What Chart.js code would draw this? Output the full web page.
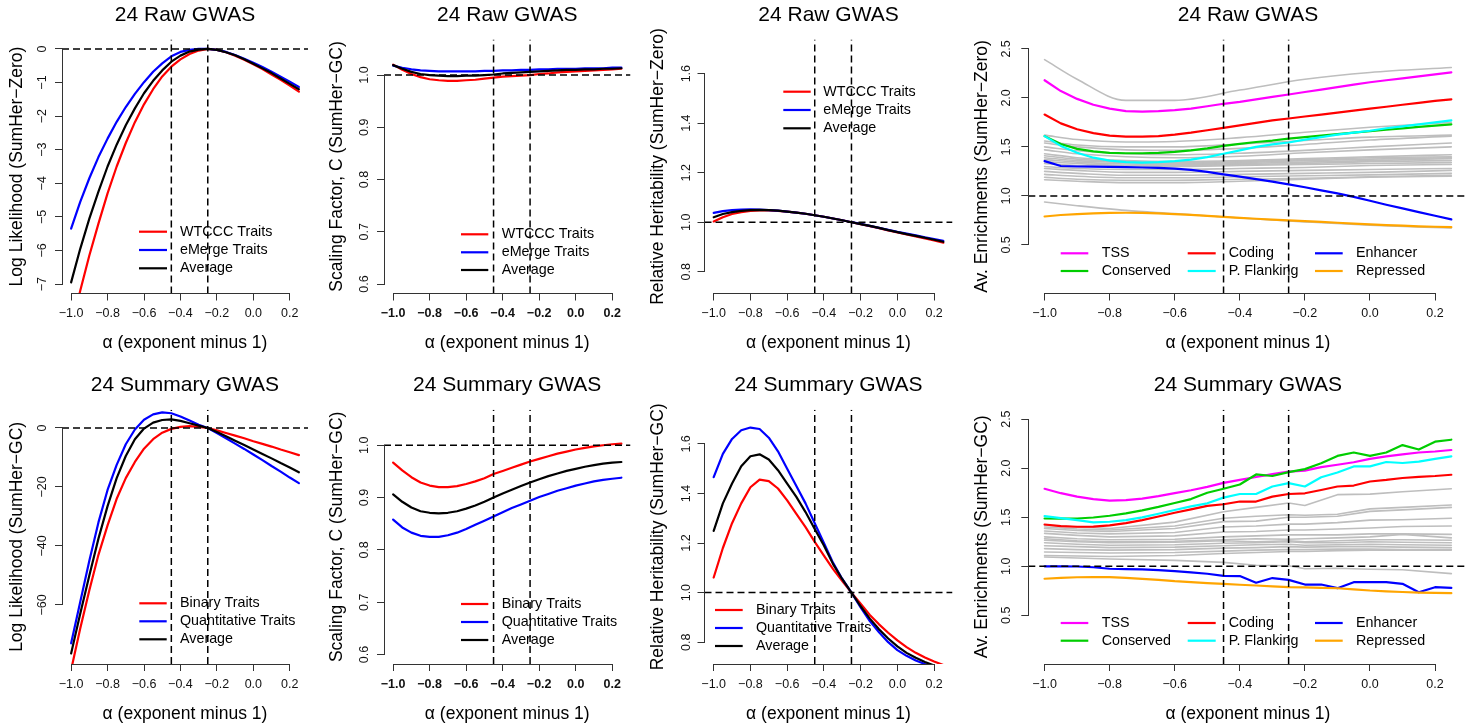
<!DOCTYPE html>
<html>
<head>
<meta charset="utf-8">
<script src="https://cdn.jsdelivr.net/npm/chart.js@4.4.1/dist/chart.umd.min.js"></script>
<style>
html, body { margin: 0; padding: 0; background: #fff; }
#fig { position: relative; width: 1483px; height: 728px; overflow: hidden; }
#fig canvas { position: absolute; }
</style>
</head>
<body>
<div id="fig"></div>
<script>
// x values (alpha) shared by the fine curves
const alpha = [-1.00, -0.95, -0.90, -0.85, -0.80, -0.75, -0.70, -0.65, -0.60, -0.55, -0.50, -0.45, -0.40,
               -0.35, -0.30, -0.25, -0.20, -0.15, -0.10, -0.05, 0.00, 0.05, 0.10, 0.15, 0.20, 0.25];
const alphaGreyRaw = [-1.0, -0.9, -0.75, -0.6, -0.4, -0.2, 0.0, 0.25];
const alphaGreySum = [-1.0, -0.9, -0.8, -0.6, -0.45, -0.35, -0.25, -0.2, -0.1, 0.0, 0.1, 0.25];

// tick labels
const alphaTicks = [-1.0, -0.8, -0.6, -0.4, -0.2, 0.0, 0.2];
const rawLikTicks = [-7, -6, -5, -4, -3, -2, -1, 0];
const sumLikTicks = [-60, -40, -20, 0];
const scaleTicks = [0.6, 0.7, 0.8, 0.9, 1.0];
const herTicks = [0.8, 1.0, 1.2, 1.4, 1.6];
const enrTicks = [0.5, 1.0, 1.5, 2.0, 2.5];

// 24 Raw GWAS
const rawLikWtccc = [-8.3, -7.2, -6.15, -5.2, -4.3, -3.5, -2.8, -2.18, -1.65, -1.2, -0.82, -0.53, -0.31, -0.15, -0.05, 0, -0.03, -0.1, -0.2, -0.32, -0.46, -0.6, -0.76, -0.92, -1.09, -1.27];
const rawLikEmerge = [-5.35, -4.55, -3.85, -3.22, -2.67, -2.17, -1.73, -1.34, -0.99, -0.68, -0.43, -0.22, -0.09, -0.03, 0, 0, -0.03, -0.09, -0.18, -0.29, -0.41, -0.54, -0.68, -0.83, -0.98, -1.13];
const rawLikAverage = [-6.95, -5.95, -5.05, -4.25, -3.5, -2.85, -2.27, -1.77, -1.32, -0.95, -0.64, -0.38, -0.2, -0.08, -0.02, 0, -0.03, -0.1, -0.19, -0.31, -0.44, -0.58, -0.72, -0.88, -1.04, -1.2];

const rawScaleWtccc = [1.020, 1.010, 1.002, 0.996, 0.992, 0.990, 0.989, 0.989, 0.990, 0.991, 0.993, 0.995, 0.997, 0.998, 0.999, 1.000, 1.002, 1.003, 1.005, 1.006, 1.007, 1.008, 1.009, 1.010, 1.011, 1.012];
const rawScaleEmerge = [1.018, 1.014, 1.011, 1.009, 1.008, 1.007, 1.007, 1.007, 1.007, 1.007, 1.008, 1.008, 1.009, 1.009, 1.010, 1.010, 1.011, 1.011, 1.012, 1.012, 1.012, 1.013, 1.013, 1.013, 1.014, 1.014];
const rawScaleAverage = [1.019, 1.012, 1.006, 1.002, 1.000, 0.999, 0.998, 0.998, 0.999, 0.999, 1.000, 1.001, 1.003, 1.004, 1.005, 1.006, 1.007, 1.008, 1.009, 1.010, 1.010, 1.011, 1.011, 1.012, 1.012, 1.013];

const rawHerWtccc = [1.003, 1.02, 1.033, 1.041, 1.046, 1.048, 1.048, 1.046, 1.043, 1.039, 1.034, 1.028, 1.022, 1.015, 1.008, 1.0, 0.992, 0.984, 0.976, 0.967, 0.959, 0.951, 0.943, 0.934, 0.926, 0.917];
const rawHerEmerge = [1.038, 1.045, 1.049, 1.051, 1.052, 1.051, 1.049, 1.047, 1.043, 1.039, 1.034, 1.028, 1.022, 1.015, 1.008, 1.0, 0.993, 0.985, 0.977, 0.969, 0.961, 0.954, 0.947, 0.939, 0.932, 0.925];
const rawHerAverage = [1.02, 1.033, 1.041, 1.046, 1.049, 1.05, 1.049, 1.047, 1.043, 1.039, 1.034, 1.028, 1.022, 1.015, 1.008, 1.0, 0.992, 0.985, 0.977, 0.968, 0.96, 0.952, 0.945, 0.937, 0.929, 0.921];

const rawEnrTss = [2.18, 2.07, 1.99, 1.93, 1.89, 1.865, 1.86, 1.865, 1.875, 1.89, 1.915, 1.94, 1.96, 1.985, 2.01, 2.035, 2.06, 2.085, 2.11, 2.135, 2.16, 2.18, 2.2, 2.22, 2.24, 2.26];
const rawEnrCoding = [1.83, 1.74, 1.68, 1.64, 1.615, 1.605, 1.605, 1.61, 1.625, 1.645, 1.67, 1.695, 1.72, 1.745, 1.77, 1.79, 1.81, 1.83, 1.85, 1.87, 1.89, 1.91, 1.93, 1.95, 1.97, 1.985];
const rawEnrEnhancer = [1.355, 1.305, 1.30, 1.298, 1.296, 1.293, 1.29, 1.285, 1.278, 1.266, 1.245, 1.22, 1.197, 1.172, 1.146, 1.118, 1.088, 1.057, 1.025, 0.99, 0.95, 0.91, 0.873, 0.835, 0.797, 0.76];
const rawEnrConserved = [1.61, 1.53, 1.48, 1.455, 1.44, 1.435, 1.435, 1.44, 1.45, 1.465, 1.485, 1.51, 1.53, 1.55, 1.565, 1.585, 1.6, 1.615, 1.63, 1.645, 1.66, 1.675, 1.69, 1.705, 1.718, 1.73];
const rawEnrFlanking = [1.61, 1.51, 1.44, 1.39, 1.36, 1.345, 1.34, 1.345, 1.355, 1.37, 1.395, 1.43, 1.465, 1.5, 1.525, 1.545, 1.575, 1.6, 1.625, 1.645, 1.665, 1.69, 1.71, 1.73, 1.75, 1.77];
const rawEnrRepressed = [0.79, 0.805, 0.815, 0.822, 0.826, 0.828, 0.827, 0.822, 0.815, 0.806, 0.796, 0.785, 0.776, 0.767, 0.758, 0.75, 0.742, 0.734, 0.726, 0.718, 0.71, 0.702, 0.696, 0.69, 0.685, 0.681];
const rawEnrGrey = [
  [2.39, 2.19, 1.975, 1.975, 2.08, 2.19, 2.26, 2.31],
  [1.62, 1.575, 1.55, 1.555, 1.595, 1.65, 1.70, 1.75],
  [1.56, 1.52, 1.50, 1.50, 1.53, 1.565, 1.60, 1.62],
  [1.54, 1.50, 1.47, 1.465, 1.485, 1.525, 1.57, 1.61],
  [1.50, 1.46, 1.43, 1.42, 1.435, 1.465, 1.50, 1.54],
  [1.47, 1.43, 1.40, 1.39, 1.405, 1.44, 1.47, 1.50],
  [1.43, 1.39, 1.36, 1.35, 1.36, 1.38, 1.40, 1.42],
  [1.41, 1.375, 1.35, 1.34, 1.35, 1.37, 1.39, 1.40],
  [1.39, 1.36, 1.34, 1.33, 1.34, 1.36, 1.375, 1.39],
  [1.37, 1.345, 1.325, 1.32, 1.33, 1.345, 1.36, 1.38],
  [1.35, 1.33, 1.31, 1.31, 1.32, 1.33, 1.35, 1.36],
  [1.33, 1.31, 1.30, 1.30, 1.31, 1.32, 1.33, 1.34],
  [1.30, 1.28, 1.27, 1.27, 1.28, 1.29, 1.31, 1.32],
  [1.28, 1.26, 1.24, 1.24, 1.25, 1.26, 1.27, 1.28],
  [1.25, 1.23, 1.21, 1.21, 1.22, 1.23, 1.24, 1.26],
  [1.22, 1.20, 1.185, 1.185, 1.195, 1.205, 1.215, 1.23],
  [1.19, 1.17, 1.16, 1.16, 1.17, 1.18, 1.195, 1.21],
  [1.165, 1.15, 1.135, 1.135, 1.15, 1.17, 1.19, 1.20],
  [0.937, 0.9, 0.852, 0.82, 0.775, 0.735, 0.7, 0.672]
];

// 24 Summary GWAS
const sumLikBinary = [-82, -68, -55, -43, -33, -24, -17, -11.5, -7, -3.8, -1.6, -0.3, 0.4, 0.6, 0.4, 0, -0.8, -1.7, -2.6, -3.5, -4.5, -5.4, -6.3, -7.3, -8.2, -9.2];
const sumLikQuant = [-73, -59, -45, -32, -21, -12.5, -5.5, -0.5, 2.8, 4.6, 5.3, 5.0, 3.9, 2.5, 1.1, 0, -1.7, -3.5, -5.3, -7.1, -9.0, -10.9, -12.9, -14.8, -16.8, -18.7];
const sumLikAverage = [-76.4, -63, -50, -37.5, -26.5, -17, -9.5, -3.8, -0.2, 1.8, 2.7, 2.9, 2.4, 1.6, 0.8, 0, -1.4, -2.8, -4.3, -5.8, -7.3, -8.8, -10.3, -11.9, -13.4, -15.0];

const sumScaleBinary = [0.967, 0.952, 0.939, 0.929, 0.923, 0.920, 0.920, 0.922, 0.926, 0.931, 0.937, 0.945, 0.951, 0.957, 0.963, 0.969, 0.974, 0.979, 0.984, 0.988, 0.992, 0.995, 0.998, 1.000, 1.002, 1.003];
const sumScaleQuant = [0.858, 0.843, 0.833, 0.827, 0.825, 0.825, 0.828, 0.833, 0.840, 0.848, 0.856, 0.864, 0.872, 0.880, 0.887, 0.894, 0.901, 0.907, 0.913, 0.918, 0.923, 0.927, 0.931, 0.934, 0.936, 0.938];
const sumScaleAverage = [0.906, 0.892, 0.881, 0.874, 0.871, 0.870, 0.871, 0.874, 0.879, 0.885, 0.892, 0.900, 0.908, 0.915, 0.922, 0.929, 0.935, 0.941, 0.946, 0.951, 0.955, 0.959, 0.962, 0.965, 0.967, 0.968];

const sumHerBinary = [1.061, 1.18, 1.28, 1.36, 1.425, 1.456, 1.45, 1.42, 1.372, 1.318, 1.264, 1.205, 1.149, 1.095, 1.047, 1.0, 0.955, 0.91, 0.872, 0.838, 0.807, 0.78, 0.757, 0.738, 0.722, 0.708];
const sumHerQuant = [1.466, 1.56, 1.62, 1.655, 1.666, 1.66, 1.625, 1.57, 1.50, 1.43, 1.36, 1.28, 1.20, 1.12, 1.055, 1.0, 0.94, 0.885, 0.84, 0.80, 0.768, 0.745, 0.726, 0.712, 0.70, 0.69];
const sumHerAverage = [1.249, 1.36, 1.44, 1.51, 1.55, 1.558, 1.537, 1.494, 1.44, 1.386, 1.325, 1.257, 1.19, 1.115, 1.054, 1.0, 0.945, 0.895, 0.852, 0.815, 0.783, 0.757, 0.737, 0.72, 0.706, 0.695];

const sumEnrTss = [1.79, 1.745, 1.71, 1.685, 1.67, 1.675, 1.69, 1.715, 1.745, 1.775, 1.81, 1.85, 1.88, 1.91, 1.94, 1.965, 1.975, 2.01, 2.035, 2.06, 2.095, 2.12, 2.14, 2.16, 2.17, 2.185];
const sumEnrCoding = [1.426, 1.41, 1.403, 1.405, 1.417, 1.44, 1.47, 1.507, 1.546, 1.58, 1.615, 1.632, 1.66, 1.66, 1.71, 1.737, 1.744, 1.778, 1.813, 1.823, 1.864, 1.88, 1.90, 1.912, 1.92, 1.933];
const sumEnrEnhancer = [1.0, 1.0, 0.998, 0.99, 0.975, 0.972, 0.968, 0.96, 0.951, 0.938, 0.924, 0.903, 0.9, 0.832, 0.88, 0.862, 0.814, 0.814, 0.777, 0.838, 0.838, 0.838, 0.821, 0.735, 0.787, 0.78];
const sumEnrConserved = [1.487, 1.485, 1.487, 1.497, 1.515, 1.54, 1.57, 1.605, 1.645, 1.685, 1.75, 1.79, 1.833, 1.936, 1.92, 1.96, 1.99, 2.05, 2.125, 2.16, 2.125, 2.16, 2.235, 2.19, 2.27, 2.29];
const sumEnrFlanking = [1.512, 1.49, 1.47, 1.447, 1.454, 1.47, 1.498, 1.535, 1.574, 1.61, 1.642, 1.70, 1.737, 1.737, 1.813, 1.847, 1.813, 1.908, 1.956, 2.018, 2.018, 2.063, 2.053, 2.066, 2.094, 2.12];
const sumEnrRepressed = [0.873, 0.882, 0.888, 0.89, 0.89, 0.882, 0.872, 0.862, 0.848, 0.838, 0.828, 0.821, 0.812, 0.804, 0.796, 0.788, 0.784, 0.78, 0.776, 0.765, 0.753, 0.745, 0.738, 0.732, 0.729, 0.726];
const sumEnrGrey = [
  [1.42, 1.40, 1.385, 1.45, 1.555, 1.60, 1.645, 1.62, 1.73, 1.735, 1.76, 1.79],
  [1.40, 1.38, 1.37, 1.41, 1.49, 1.51, 1.525, 1.52, 1.53, 1.585, 1.60, 1.625],
  [1.385, 1.365, 1.355, 1.385, 1.455, 1.46, 1.50, 1.50, 1.51, 1.56, 1.575, 1.60],
  [1.36, 1.34, 1.33, 1.345, 1.40, 1.41, 1.43, 1.43, 1.445, 1.47, 1.475, 1.49],
  [1.335, 1.315, 1.30, 1.31, 1.35, 1.355, 1.37, 1.37, 1.38, 1.39, 1.405, 1.41],
  [1.30, 1.28, 1.27, 1.275, 1.30, 1.31, 1.32, 1.32, 1.32, 1.33, 1.33, 1.325],
  [1.28, 1.26, 1.25, 1.255, 1.27, 1.28, 1.275, 1.28, 1.29, 1.30, 1.325, 1.29],
  [1.266, 1.25, 1.24, 1.245, 1.26, 1.25, 1.26, 1.25, 1.26, 1.27, 1.27, 1.266],
  [1.24, 1.225, 1.215, 1.22, 1.235, 1.24, 1.25, 1.24, 1.24, 1.25, 1.245, 1.24],
  [1.21, 1.20, 1.19, 1.195, 1.21, 1.22, 1.225, 1.215, 1.22, 1.225, 1.22, 1.215],
  [1.18, 1.17, 1.165, 1.17, 1.185, 1.19, 1.20, 1.195, 1.20, 1.20, 1.195, 1.19],
  [1.146, 1.14, 1.135, 1.14, 1.155, 1.165, 1.17, 1.17, 1.175, 1.175, 1.17, 1.17],
  [1.11, 1.105, 1.10, 1.11, 1.13, 1.14, 1.15, 1.15, 1.16, 1.165, 1.165, 1.165],
  [1.095, 1.085, 1.075, 1.06, 1.04, 1.01, 1.005, 0.975, 0.98, 0.97, 0.965, 0.925]
];

// ---- look ----
const FONT = "'Liberation Sans', Arial, Helvetica, sans-serif";
const TITLE_SIZE = 21, LAB_SIZE = 17.5, TICK_SIZE = 12.5, LEG_SIZE = 14.3;
const AXIS = '#333';
const TL = 7;
const X_MIN = -1.05, X_MAX = 0.3;
const RED = '#FF0000', BLUE = '#0000FF', BLACK = '#000000', MAGENTA = '#FF00FF',
      GREEN = '#00CD00', CYAN = '#00FFFF', ORANGE = '#FFA500', GREY = '#BEBEBE';

Chart.defaults.font.family = FONT;
Chart.defaults.color = '#000';
Chart.defaults.elements.point.radius = 0;

const rows = [
  { top: 0, bottom: 355, plotTop: 39.5, plotBottom: 293.5, titleY: 15, xTickY: 313.3, xTitleY: 343 },
  { top: 364, bottom: 726, plotTop: 409.7, plotBottom: 664, titleY: 385.7, xTickY: 684.7, xTitleY: 714 }
];
const cols = [
  { plotL: 62, plotR: 308, yTitleX: 16.7, yTickX: 43 },
  { plotL: 384, plotR: 630.5, yTitleX: 336.7, yTickX: 365 },
  { plotL: 704.5, plotR: 952.5, yTitleX: 658.5, yTickX: 687 },
  { plotL: 1028.3, plotR: 1467.6, yTitleX: 981.7, yTickX: 1007 }
];

const fig = document.getElementById('fig');
const measureCtx = document.createElement('canvas').getContext('2d');
function widest(labels, font) {
  measureCtx.font = font;
  return Math.max(...labels.map(l => measureCtx.measureText(l).width));
}
function fmt(d) {
  return v => (v < 0 ? '\u2212' : '') + Math.abs(v).toFixed(d);
}
function pts(xs, ys) {
  return xs.map((x, i) => ({ x: x, y: ys[i] }));
}

// R-style axis lines that only run between the first and last tick
const rAxes = {
  id: 'rAxes',
  afterDraw(chart) {
    const { ctx, chartArea } = chart;
    const sx = chart.scales.x, sy = chart.scales.y;
    const al = v => Math.round(v - 0.5) + 0.5;
    ctx.save();
    ctx.strokeStyle = AXIS;
    ctx.lineWidth = 1;
    const yb = al(chartArea.bottom), xl = al(chartArea.left);
    ctx.beginPath();
    ctx.moveTo(al(sx.getPixelForValue(sx.ticks[0].value)) - 0.5, yb);
    ctx.lineTo(al(sx.getPixelForValue(sx.ticks[sx.ticks.length - 1].value)) + 0.5, yb);
    ctx.moveTo(xl, al(sy.getPixelForValue(sy.ticks[0].value)) + 0.5);
    ctx.lineTo(xl, al(sy.getPixelForValue(sy.ticks[sy.ticks.length - 1].value)) - 0.5);
    ctx.stroke();
    ctx.restore();
  }
};

function legendPlugin(spec, ox, oy) {
  return {
    id: 'rLegend',
    afterDraw(chart) {
      const ctx = chart.ctx;
      ctx.save();
      ctx.font = LEG_SIZE + 'px ' + FONT;
      ctx.textBaseline = 'middle';
      ctx.textAlign = 'left';
      ctx.fillStyle = '#000';
      ctx.lineWidth = 2.2;
      spec.items.forEach((it, i) => {
        const c = spec.cols[i % spec.cols.length];
        const y = spec.rows[Math.floor(i / spec.cols.length)] - oy;
        ctx.strokeStyle = it[1];
        ctx.beginPath();
        ctx.moveTo(c[0] - ox, y);
        ctx.lineTo(c[1] - ox, y);
        ctx.stroke();
        ctx.fillText(it[0], c[2] - ox, y);
      });
      ctx.restore();
    }
  };
}

function panel(p) {
  const row = rows[p.row], col = cols[p.col];
  const left = Math.floor(col.yTitleX - 12);
  const right = Math.ceil(col.plotR + 8);
  const cv = document.createElement('canvas');
  cv.width = right - left;
  cv.height = row.bottom - row.top;
  cv.style.left = left + 'px';
  cv.style.top = row.top + 'px';
  fig.appendChild(cv);

  const tickFont = TICK_SIZE + 'px ' + FONT;
  const yLabels = p.yTicks.map(p.yFmt);
  const yPad = (col.plotL - col.yTickX) - TL - widest(yLabels, tickFont) / 2;
  const xPad = row.xTickY - row.plotBottom - TL - TICK_SIZE * 0.6;
  const titleTop = row.titleY - row.top - TITLE_SIZE * 0.6;
  const titleBottom = row.plotTop - row.top - titleTop - TITLE_SIZE * 1.2;

  const dash = { borderColor: '#000', borderWidth: 1.5, borderDash: [7, 4], order: 0 };
  const datasets = [
    Object.assign({ data: [{ x: -0.45, y: p.yMin }, { x: -0.45, y: p.yMax }] }, dash),
    Object.assign({ data: [{ x: -0.25, y: p.yMin }, { x: -0.25, y: p.yMax }] }, dash),
    Object.assign({ data: [{ x: X_MIN, y: p.hLine }, { x: X_MAX, y: p.hLine }] }, dash)
  ];
  p.series.forEach(s => datasets.push({
    data: pts(s.x, s.y),
    borderColor: s.color,
    borderWidth: s.width || 2.2,
    borderCapStyle: 'round',
    borderJoinStyle: 'round',
    cubicInterpolationMode: s.smooth ? 'monotone' : 'default',
    order: s.color === GREY ? 2 : 1
  }));

  new Chart(cv, {
    type: 'line',
    data: { datasets: datasets },
    options: {
      responsive: false,
      animation: false,
      devicePixelRatio: 1,
      events: [],
      layout: { padding: { left: 0, top: 0, bottom: 0, right: right - col.plotR } },
      plugins: {
        legend: { display: false },
        tooltip: { enabled: false },
        title: {
          display: true, text: p.title, fullSize: false, color: '#000',
          font: { size: TITLE_SIZE, weight: 'normal' },
          padding: { top: titleTop, bottom: titleBottom }
        }
      },
      scales: {
        x: {
          type: 'linear', min: X_MIN, max: X_MAX,
          afterBuildTicks: s => { s.ticks = alphaTicks.map(v => ({ value: v })); },
          afterFit: s => { s.height = row.bottom - row.plotBottom; },
          border: { display: false },
          grid: { display: true, drawOnChartArea: false, drawTicks: true, tickLength: TL, color: AXIS },
          ticks: {
            autoSkip: false, maxRotation: 0, padding: xPad, color: '#111',
            font: { size: TICK_SIZE, weight: p.boldX ? 'bold' : 'normal' },
            callback: fmt(1)
          },
          title: {
            display: true, text: '\u03b1 (exponent minus 1)', color: '#000',
            font: { size: LAB_SIZE }, padding: { top: 0, bottom: row.bottom - row.xTitleY - LAB_SIZE * 0.6 }
          }
        },
        y: {
          type: 'linear', min: p.yMin, max: p.yMax,
          afterBuildTicks: s => { s.ticks = p.yTicks.map(v => ({ value: v })); },
          afterFit: s => { s.width = col.plotL - left; },
          border: { display: false },
          grid: { display: true, drawOnChartArea: false, drawTicks: true, tickLength: TL, color: AXIS },
          ticks: {
            autoSkip: false, minRotation: 90, maxRotation: 90, crossAlign: 'center',
            padding: yPad, color: '#111', font: { size: TICK_SIZE },
            callback: p.yFmt
          },
          title: {
            display: true, text: p.yTitle, color: '#000',
            font: { size: LAB_SIZE }, padding: { top: col.yTitleX - left - LAB_SIZE * 0.6, bottom: 0 }
          }
        }
      }
    },
    plugins: [rAxes, legendPlugin(p.legend, left, row.top)]
  });
}

const legOne = [[139, 167, 180]];
const legTriple = [[1060.7, 1088.3, 1101.7], [1187.7, 1215.7, 1228.7], [1315, 1342.7, 1356]];
const enrItems = [['TSS', MAGENTA], ['Coding', RED], ['Enhancer', BLUE],
                  ['Conserved', GREEN], ['P. Flanking', CYAN], ['Repressed', ORANGE]];
const rawItems = [['WTCCC Traits', RED], ['eMerge Traits', BLUE], ['Average', BLACK]];
const sumItems = [['Binary Traits', RED], ['Quantitative Traits', BLUE], ['Average', BLACK]];

function trio(a, b, c) {
  return [{ x: alpha, y: c, color: BLACK }, { x: alpha, y: b, color: BLUE }, { x: alpha, y: a, color: RED }];
}
function enrSeries(tss, coding, enh, cons, flank, rep, grey, gx, smooth) {
  const s = [
    { x: alpha, y: rep, color: ORANGE }, { x: alpha, y: enh, color: BLUE },
    { x: alpha, y: flank, color: CYAN }, { x: alpha, y: cons, color: GREEN },
    { x: alpha, y: coding, color: RED }, { x: alpha, y: tss, color: MAGENTA }
  ];
  grey.forEach(g => s.push({ x: gx, y: g, color: GREY, width: 1.6, smooth: smooth }));
  return s;
}

// row 1: 24 Raw GWAS
panel({ row: 0, col: 0, title: '24 Raw GWAS', yTitle: 'Log Likelihood (SumHer\u2212Zero)',
  yMin: -7.28, yMax: 0.28, yTicks: rawLikTicks, yFmt: fmt(0), hLine: 0,
  series: trio(rawLikWtccc, rawLikEmerge, rawLikAverage),
  legend: { cols: legOne, rows: [231.7, 250, 268.3], items: rawItems } });
panel({ row: 0, col: 1, title: '24 Raw GWAS', yTitle: 'Scaling Factor, C (SumHer\u2212GC)',
  yMin: 0.582, yMax: 1.068, yTicks: scaleTicks, yFmt: fmt(1), hLine: 1, boldX: true,
  series: trio(rawScaleWtccc, rawScaleEmerge, rawScaleAverage),
  legend: { cols: [[461, 488.3, 501.7]], rows: [234.3, 252.3, 270], items: rawItems } });
panel({ row: 0, col: 2, title: '24 Raw GWAS', yTitle: 'Relative Heritability (SumHer\u2212Zero)',
  yMin: 0.712, yMax: 1.738, yTicks: herTicks, yFmt: fmt(1), hLine: 1,
  series: trio(rawHerWtccc, rawHerEmerge, rawHerAverage),
  legend: { cols: [[783.3, 810.7, 823.3]], rows: [91.7, 110, 128.3], items: rawItems } });
panel({ row: 0, col: 3, title: '24 Raw GWAS', yTitle: 'Av. Enrichments (SumHer\u2212Zero)',
  yMin: 0.004, yMax: 2.596, yTicks: enrTicks, yFmt: fmt(1), hLine: 1,
  series: enrSeries(rawEnrTss, rawEnrCoding, rawEnrEnhancer, rawEnrConserved, rawEnrFlanking,
                    rawEnrRepressed, rawEnrGrey, alphaGreyRaw, true),
  legend: { cols: legTriple, rows: [253.3, 271], items: enrItems } });

// row 2: 24 Summary GWAS
panel({ row: 1, col: 0, title: '24 Summary GWAS', yTitle: 'Log Likelihood (SumHer\u2212GC)',
  yMin: -80, yMax: 6.2, yTicks: sumLikTicks, yFmt: fmt(0), hLine: 0,
  series: trio(sumLikBinary, sumLikQuant, sumLikAverage),
  legend: { cols: [[139.3, 166.7, 180]], rows: [603.3, 621.3, 639.3], items: sumItems } });
panel({ row: 1, col: 1, title: '24 Summary GWAS', yTitle: 'Scaling Factor, C (SumHer\u2212GC)',
  yMin: 0.582, yMax: 1.068, yTicks: scaleTicks, yFmt: fmt(1), hLine: 1, boldX: true,
  series: trio(sumScaleBinary, sumScaleQuant, sumScaleAverage),
  legend: { cols: [[461, 488.3, 501.7]], rows: [604, 622, 640], items: sumItems } });
panel({ row: 1, col: 2, title: '24 Summary GWAS', yTitle: 'Relative Heritability (SumHer\u2212GC)',
  yMin: 0.712, yMax: 1.738, yTicks: herTicks, yFmt: fmt(1), hLine: 1,
  series: trio(sumHerBinary, sumHerQuant, sumHerAverage),
  legend: { cols: [[715, 742.7, 756]], rows: [610, 628, 646], items: sumItems } });
panel({ row: 1, col: 3, title: '24 Summary GWAS', yTitle: 'Av. Enrichments (SumHer\u2212GC)',
  yMin: 0.004, yMax: 2.596, yTicks: enrTicks, yFmt: fmt(1), hLine: 1,
  series: enrSeries(sumEnrTss, sumEnrCoding, sumEnrEnhancer, sumEnrConserved, sumEnrFlanking,
                    sumEnrRepressed, sumEnrGrey, alphaGreySum, false),
  legend: { cols: legTriple, rows: [623, 640.7], items: enrItems } });
</script>
</body>
</html>
